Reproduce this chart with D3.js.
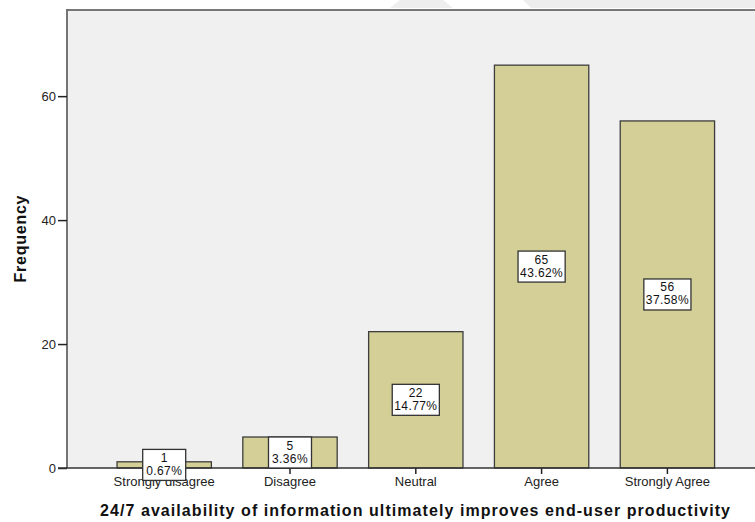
<!DOCTYPE html>
<html><head><meta charset="utf-8">
<script src="https://cdn.jsdelivr.net/npm/d3@7"></script>
<style>body{margin:0;background:#fff}svg{display:block}</style>
</head><body>
<svg id="c" width="755" height="522"></svg>
<script>
const categories = ["Strongly disagree","Disagree","Neutral","Agree","Strongly Agree"];
const counts = [1,5,22,65,56];
const percents = ["0.67%","3.36%","14.77%","43.62%","37.58%"];
const yTicks = [0,20,40,60];
const xTitle = "24/7 availability of information ultimately improves end-user productivity";
const yTitle = "Frequency";

(function(){
const svg = d3.select("#c");
const font = "Arial, 'Liberation Sans', sans-serif";
const mLeft = 67, mTop = 10, mBottom = 468;

// faint background shapes at top
svg.append("polygon").attr("points","400,0 443,0 453,8 390,8").attr("fill","#eeeeee");
svg.append("polygon").attr("points","523,0 755,0 755,8 531,8").attr("fill","#eeeeee");

const y = d3.scaleLinear().domain([0, 73.9]).range([mBottom, mTop]);
const x = d3.scaleBand().domain(categories).range([101.3, 730.3]).paddingInner(0.25).paddingOuter(0.125);

svg.append("rect").attr("x", mLeft).attr("y", mTop).attr("width", 755-mLeft+5).attr("height", mBottom-mTop)
  .attr("fill","#f0f0f0");

svg.selectAll(".bar").data(categories).enter().append("rect")
  .attr("x", d => x(d)).attr("width", x.bandwidth())
  .attr("y", (d,i) => y(counts[i])).attr("height", (d,i) => mBottom - y(counts[i]))
  .attr("fill","#d3cf97").attr("stroke","#3d3d3d").attr("stroke-width",1.3);

// frame lines
svg.append("line").attr("x1",mLeft).attr("x2",755).attr("y1",mTop).attr("y2",mTop).attr("stroke","#777").attr("stroke-width",2);
svg.append("line").attr("x1",mLeft).attr("x2",mLeft).attr("y1",mTop-1).attr("y2",mBottom).attr("stroke","#666").attr("stroke-width",1.8);

// y axis
const yAxis = d3.axisLeft(y).tickValues(yTicks).tickSize(9).tickPadding(2);
const gy = svg.append("g").attr("transform",`translate(${mLeft},0)`).call(yAxis);
gy.select(".domain").remove();
gy.selectAll("line").attr("stroke","#222").attr("stroke-width",1.5);
gy.selectAll("text").attr("font-family",font).attr("font-size",13).attr("fill","#222");

// x axis
const xAxis = d3.axisBottom(x).tickSize(6).tickPadding(3);
const gx = svg.append("g").attr("transform",`translate(0,${mBottom})`).call(xAxis);
gx.select(".domain").remove();
gx.selectAll("line").attr("stroke","#222").attr("stroke-width",1.5);
gx.selectAll("text").attr("font-family",font).attr("font-size",13).attr("fill","#222");
svg.append("line").attr("x1",mLeft-9).attr("x2",755).attr("y1",mBottom).attr("y2",mBottom).attr("stroke","#333").attr("stroke-width",1.5);

// labels
const lab = svg.selectAll(".lab").data(categories).enter().append("g")
  .attr("transform",(d,i)=>`translate(${x(d)+x.bandwidth()/2},${(y(counts[i])+mBottom)/2})`);
lab.each(function(d,i){
  const g = d3.select(this);
  const t1 = g.append("text").attr("y",-3).attr("text-anchor","middle").attr("font-family",font).attr("font-size",12).attr("letter-spacing",0.4).attr("fill","#111").text(counts[i]);
  const t2 = g.append("text").attr("y",10).attr("text-anchor","middle").attr("font-family",font).attr("font-size",12).attr("letter-spacing",0.4).attr("fill","#111").text(percents[i]);
  const w = Math.max(t1.node().getComputedTextLength(), t2.node().getComputedTextLength()) + 4;
  const bw = Math.max(w, 43);
  g.insert("rect","text").attr("x",-bw/2).attr("y",-15.5).attr("width",bw).attr("height",31)
    .attr("fill","#fff").attr("stroke","#333").attr("stroke-width",1.3);
});

// titles
svg.append("text").attr("x",415).attr("y",516).attr("text-anchor","middle").attr("font-family",font)
  .attr("font-size",16).attr("font-weight","bold").attr("fill","#111")
  .attr("textLength",630).attr("lengthAdjust","spacing").text(xTitle);
svg.append("text").attr("transform","translate(26,239) rotate(-90)").attr("text-anchor","middle").attr("font-family",font)
  .attr("font-size",16).attr("font-weight","bold").attr("fill","#111")
  .attr("textLength",87).attr("lengthAdjust","spacing").text(yTitle);
})();
</script>
</body></html>
